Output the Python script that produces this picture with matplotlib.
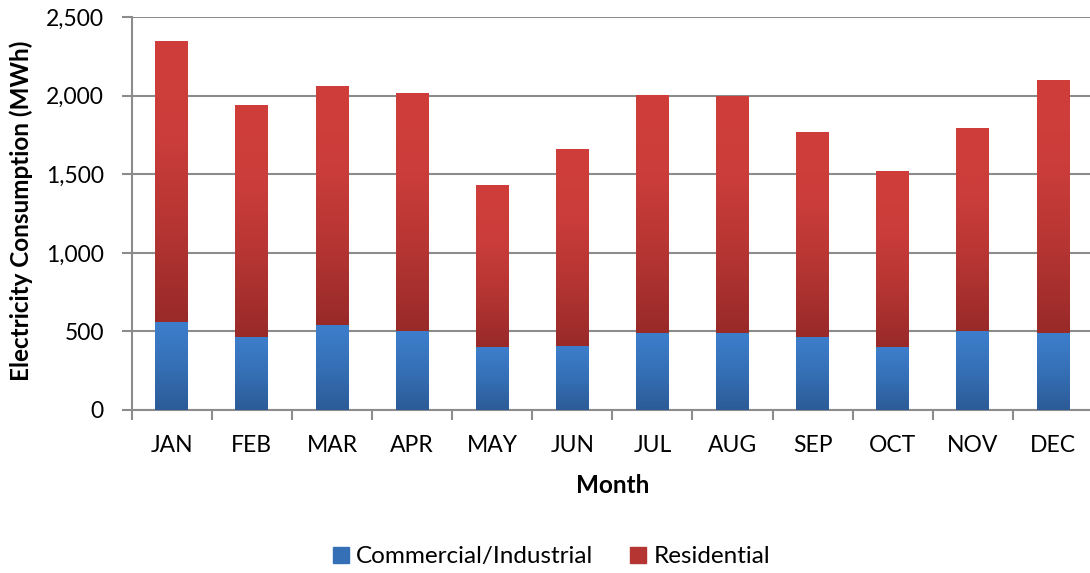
import matplotlib
matplotlib.use("Agg")
import matplotlib.pyplot as plt
import numpy as np
from matplotlib.colors import LinearSegmentedColormap
from matplotlib.ticker import FuncFormatter, MultipleLocator

# ─── Data ────────────────────────────────────────────────────────────────────

months = ["JAN", "FEB", "MAR", "APR", "MAY", "JUN",
          "JUL", "AUG", "SEP", "OCT", "NOV", "DEC"]
commercial = [557, 466, 544, 500, 402, 408, 493, 493, 466, 402, 500, 487]
totals = [2341, 1939, 2060, 2009, 1429, 1658, 2003, 1996, 1767, 1518, 1792, 2092]
residential = [t - c for t, c in zip(totals, commercial)]

series_names = ["Commercial/Industrial", "Residential"]

# ─── Styling ─────────────────────────────────────────────────────────────────

plt.rcParams["font.family"] = ["Lato", "DejaVu Sans"]

blue_cmap = LinearSegmentedColormap.from_list("blue", ["#2C5B97", "#3570B6", "#3D7ECC"])
red_cmap = LinearSegmentedColormap.from_list("red", ["#982A28", "#B53533", "#CB3D3A", "#D03E3A"])
grid_grey = "#8C8C8C"


def fill_gradient(ax, bars, cmap):
    """Paint a vertical gradient over every bar of a container."""
    grad = np.linspace(0, 1, 256).reshape(-1, 1)
    for patch in bars.patches:
        x0, y0 = patch.get_x(), patch.get_y()
        w, h = patch.get_width(), patch.get_height()
        ax.imshow(grad, cmap=cmap, origin="lower", aspect="auto",
                  extent=[x0, x0 + w, y0, y0 + h], zorder=3,
                  interpolation="bilinear")
        patch.set_alpha(0)


fig = plt.figure(figsize=(10.9, 5.73), dpi=100)
ax = fig.add_axes([0.1208, 0.2845, 0.8820, 0.6853])

x = np.arange(len(months))
w = 0.41
b1 = ax.bar(x, commercial, w, color="#3570B6", label=series_names[0], zorder=3)
b2 = ax.bar(x, residential, w, bottom=commercial, color="#B53533",
            label=series_names[1], zorder=3)
fill_gradient(ax, b1, blue_cmap)
fill_gradient(ax, b2, red_cmap)

ax.set_xlim(-0.5, len(months) - 0.5)
ax.set_ylim(0, 2500)
ax.yaxis.set_major_locator(MultipleLocator(500))
ax.yaxis.set_major_formatter(FuncFormatter(lambda v, _: f"{int(v):,}"))
ax.grid(True, axis="y", color=grid_grey, linewidth=1.5, zorder=0)
ax.set_axisbelow(True)

ax.set_xticks(x)
ax.set_xticklabels(months)
ax.set_xticks(np.arange(-0.5, len(months)), minor=True)
ax.tick_params(axis="x", which="major", length=0, pad=18, labelsize=16.5)
ax.tick_params(axis="x", which="minor", length=7, width=1.5, color=grid_grey)
ax.tick_params(axis="y", length=7, width=1.5, color=grid_grey, labelsize=16.5, pad=13)

for side in ("top", "right"):
    ax.spines[side].set_visible(False)
for side in ("left", "bottom"):
    ax.spines[side].set_color(grid_grey)
    ax.spines[side].set_linewidth(1.5)

ax.set_ylabel("Electricity Consumption (MWh)", fontsize=17.5, fontweight="bold",
              va="center")
ax.yaxis.set_label_coords(-0.115, 0.507)
ax.set_xlabel("Month", fontsize=17.5, fontweight="bold")
ax.xaxis.set_label_coords(0.5, -0.163)

handles = [plt.Rectangle((0, 0), 1, 1, color="#3570B6"),
           plt.Rectangle((0, 0), 1, 1, color="#B53533")]
fig.legend(handles, series_names, loc="center", bbox_to_anchor=(0.506, 0.028),
           ncol=2, frameon=False, fontsize=17.5, handlelength=0.66, handleheight=0.66,
           handletextpad=0.3, columnspacing=1.5)

fig.savefig("out.png", dpi=100)
